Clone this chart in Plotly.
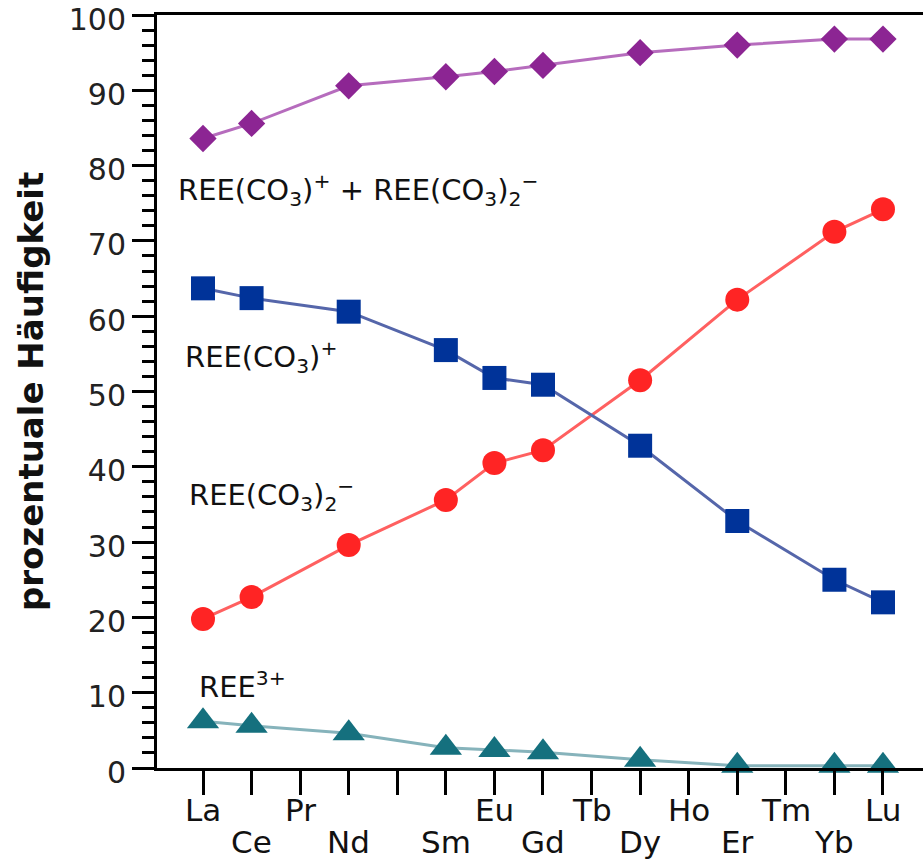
import plotly.graph_objects as go

elements = ["La", "Ce", "Pr", "Nd", "Pm", "Sm", "Eu", "Gd", "Tb", "Dy", "Ho", "Er", "Tm", "Yb", "Lu"]
tick_labels = ["La", "Ce", "Pr", "Nd", "", "Sm", "Eu", "Gd", "Tb", "Dy", "Ho", "Er", "Tm", "Yb", "Lu"]
label_row = [0, 1, 0, 1, 0, 1, 0, 1, 0, 1, 0, 1, 0, 1, 0]

measured = ["La", "Ce", "Nd", "Sm", "Eu", "Gd", "Dy", "Er", "Yb", "Lu"]
total_carb = [83.6, 85.6, 90.6, 91.8, 92.5, 93.3, 95.0, 96.0, 96.8, 96.8]
mono_carb = [63.7, 62.4, 60.6, 55.5, 51.8, 50.9, 42.8, 32.8, 25.0, 22.0]
di_carb = [19.8, 22.7, 29.6, 35.6, 40.5, 42.2, 51.5, 62.2, 71.2, 74.2]
free_ion = [6.2, 5.6, 4.6, 2.7, 2.4, 2.1, 1.1, 0.3, 0.3, 0.3]

series_labels = [
    ("REE(CO<sub>3</sub>)<sup>+</sup> + REE(CO<sub>3</sub>)<sub>2</sub><sup>\u2212</sup>", -0.56, 76.8),
    ("REE(CO<sub>3</sub>)<sup>+</sup>", -0.42, 54.6),
    ("REE(CO<sub>3</sub>)<sub>2</sub><sup>\u2212</sup>", -0.32, 36.3),
    ("REE<sup>3+</sup>", -0.12, 11.0),
]

FONT = "DejaVu Sans"
xpos = [elements.index(e) for e in measured]

fig = go.Figure()

def add(y, color, lcolor, symbol, size):
    fig.add_trace(go.Scatter(
        x=xpos, y=y, mode="lines+markers",
        line=dict(color=lcolor, width=3),
        marker=dict(symbol=symbol, size=size, color=color, line=dict(width=0)),
        showlegend=False, cliponaxis=False,
    ))

add(free_ion, "#15707e", "#86b3bb", "triangle-up", 28)
add(di_carb, "#ff2424", "#ff6060", "circle", 24)
add(mono_carb, "#003399", "#5566aa", "square", 24)
add(total_carb, "#8c2593", "#b66cbd", "diamond", 21)

for text, x, y in series_labels:
    fig.add_annotation(x=x, y=y, xref="x", yref="y", text=text, showarrow=False,
                       xanchor="left", yanchor="middle",
                       font=dict(family=FONT, size=29, color="#111"))

row_y = [-0.056, -0.098]
for i, t in enumerate(tick_labels):
    if t:
        fig.add_annotation(x=i, y=row_y[label_row[i]], xref="x", yref="paper", text=t,
                           showarrow=False, xanchor="center", yanchor="middle",
                           font=dict(family=FONT, size=31, color="#111"))

fig.add_annotation(x=-0.165, y=0.5, xref="paper", yref="paper",
                   text="<b>prozentuale Häufigkeit</b>", textangle=-90, showarrow=False,
                   xanchor="center", yanchor="middle",
                   font=dict(family=FONT, size=34, color="#111"))

fig.update_layout(
    width=923, height=862,
    margin=dict(l=157, r=0, t=15, b=94, autoexpand=False),
    paper_bgcolor="white", plot_bgcolor="white",
    xaxis=dict(range=[-0.947, 14.824], tickvals=list(range(len(elements))),
               showticklabels=False, ticks="outside", ticklen=24, tickwidth=3,
               tickcolor="black", showline=True, linewidth=3, linecolor="black",
               mirror=True, showgrid=False, zeroline=False, automargin=False),
    yaxis=dict(range=[0, 100], dtick=10, ticks="outside", ticklen=22, tickwidth=3,
               tickcolor="black", showline=True, linewidth=3, linecolor="black",
               showgrid=False, zeroline=False, automargin=False,
               ticklabeloverflow="allow", ticklabelshift=4,
               tickfont=dict(family=FONT, size=30, color="#222"),
               minor=dict(dtick=2, ticks="outside", ticklen=12, tickwidth=3,
                          tickcolor="black", showgrid=False)),
)

fig.write_html("out.html", config={"displayModeBar": False},
               post_script="document.body.style.margin='0';document.body.style.overflow='hidden';")
